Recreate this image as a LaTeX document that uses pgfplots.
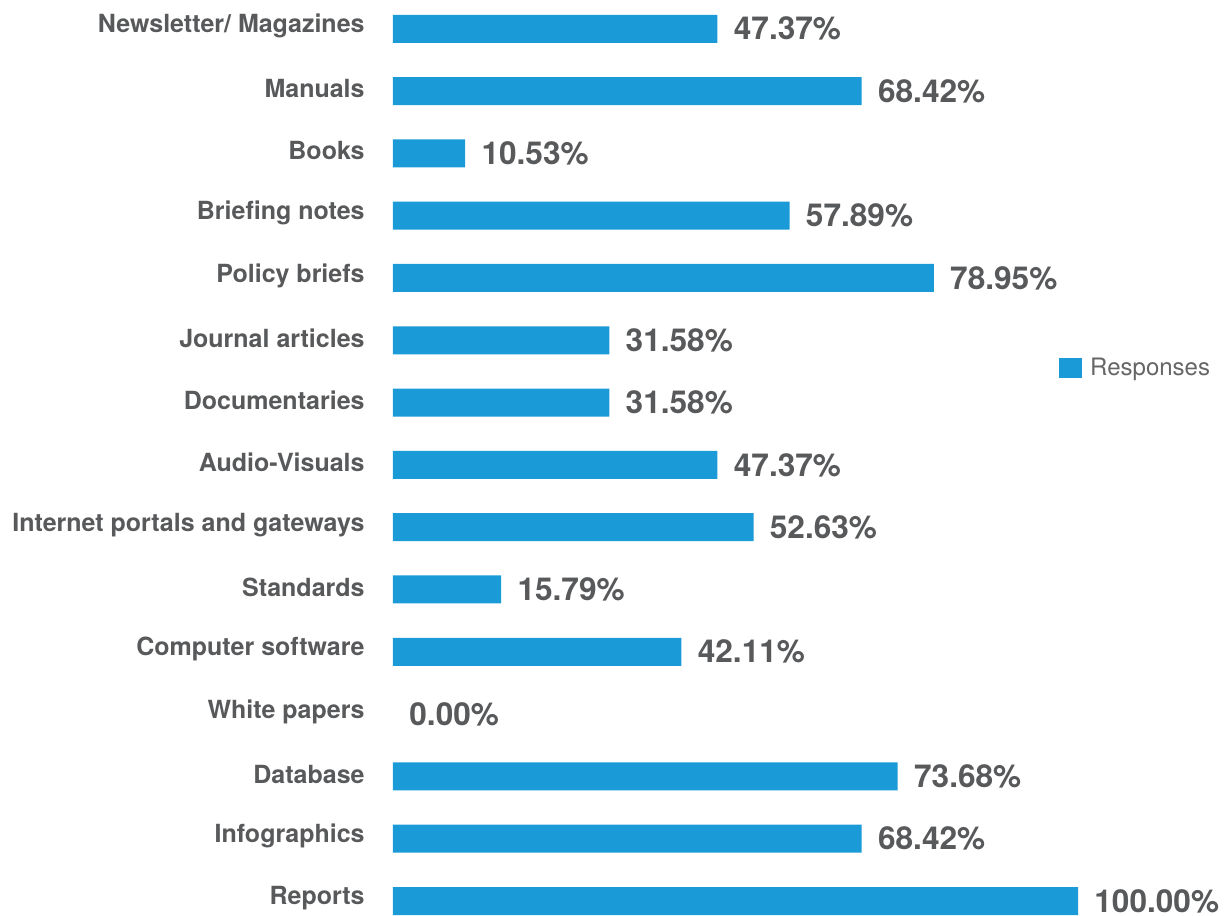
\documentclass[border=0pt]{standalone}
\usepackage{pgfplots}
\pgfplotsset{compat=1.18}
\usepackage{fontspec}
\setmainfont{TeX Gyre Heros}
\definecolor{barblue}{HTML}{1A9AD6}
\definecolor{labgray}{HTML}{58595B}
\definecolor{leggray}{HTML}{666666}
\begin{document}
\begin{tikzpicture}
\begin{axis}[
  at={(0,0)}, anchor=south west,
  scale only axis,
  width=342.5pt, height=467.25pt,
  xmin=0, xmax=100,
  ymin=-0.5, ymax=14.5,
  xbar, bar width=14pt,
  axis line style={draw=none},
  tick style={draw=none},
  major tick length=0pt,
  xtick=\empty,
  ytick={0,...,14},
  yticklabels={Reports,Infographics,Database,White papers,Computer software,Standards,Internet portals and gateways,Audio-Visuals,Documentaries,Journal articles,Policy briefs,Briefing notes,Books,Manuals,Newsletter/ Magazines},
  yticklabel style={font=\fontsize{12.5pt}{14pt}\selectfont\bfseries, text=labgray, inner sep=0pt, xshift=-14pt, yshift=1.2pt},
  /pgf/number format/assume math mode=true,
  point meta=x,
  nodes near coords={\pgfmathprintnumber[fixed,fixed zerofill,precision=2]{\pgfplotspointmeta}\%},
  nodes near coords style={font=\fontsize{15.8pt}{17pt}\selectfont\bfseries, text=labgray, anchor=west, inner sep=0pt, xshift=8pt},
  legend style={at={(0.972,0.6037)}, anchor=west, draw=none, inner sep=0pt, font=\fontsize{12pt}{14pt}\selectfont, text=leggray, legend cell align=left},
  legend image code/.code={\fill[barblue] (0pt,-5pt) rectangle (11.5pt,5pt);},
  clip=false,
]
\addplot[fill=barblue, draw=none, bar shift=0pt] coordinates {
(100,0) (68.42,1) (73.68,2) (42.11,4) (15.79,5) (52.63,6) (47.37,7) (31.58,8) (31.58,9) (78.95,10) (57.89,11) (10.53,12) (68.42,13) (47.37,14)
};
\addlegendentry{\hspace{2pt}Responses}
\addplot[fill=none, draw=none, bar shift=0pt, forget plot] coordinates {(0,3)};
\end{axis}
\pgfresetboundingbox
\path[use as bounding box] (-196.5pt,8.575pt) rectangle (415.5pt,466.075pt);
\end{tikzpicture}
\end{document}
